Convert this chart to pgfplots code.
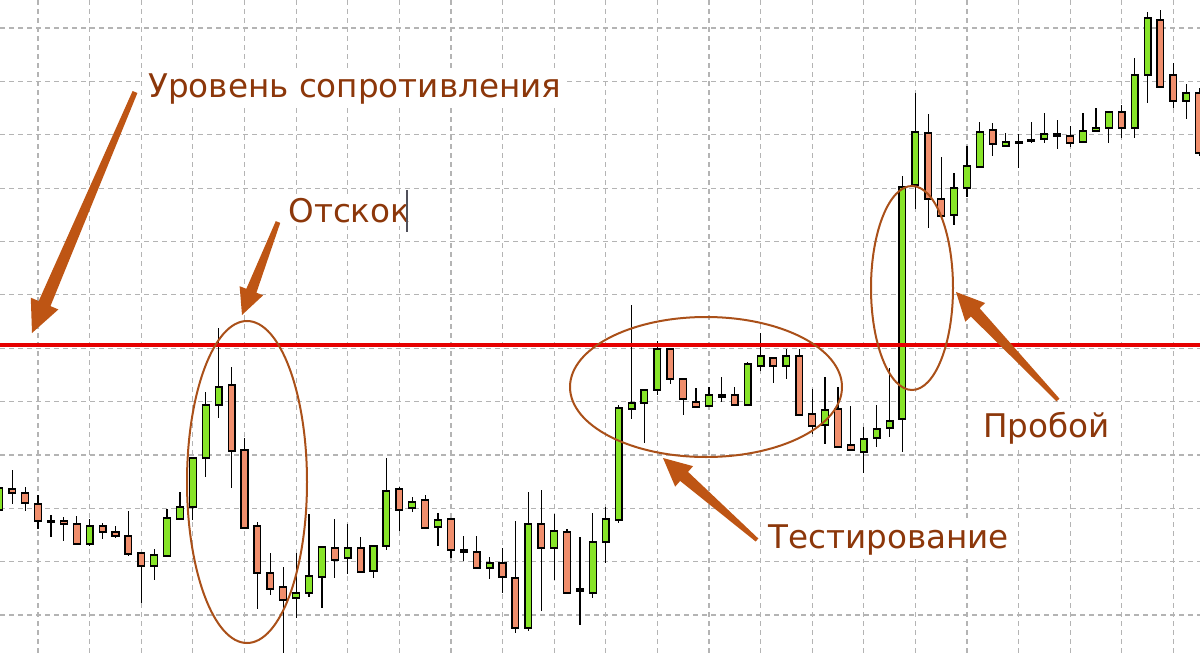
\documentclass[border=0pt]{standalone}
\usepackage{pgfplots}
\pgfplotsset{compat=1.18}
\usepackage{pgfplotstable}
\usepackage{fontspec}
\setmainfont{DejaVu Sans}
\usetikzlibrary{calc}

\definecolor{upcol}{RGB}{135,228,40}
\definecolor{downcol}{RGB}{240,142,108}
\definecolor{gridcol}{RGB}{180,180,180}
\definecolor{levelcol}{RGB}{230,0,0}
\definecolor{arrowcol}{RGB}{190,85,20}
\definecolor{textcol}{RGB}{140,55,10}
\definecolor{ellcol}{RGB}{170,80,25}
\definecolor{cursorcol}{RGB}{80,80,90}

% candles: index, open, high, low, close (screen scale, downward)
\pgfplotstableread{
k o h l c
0 510 485 513 488
1 489 470 504 493
2 493 487 511 503
3 504 495 529 521
4 521 515 537 522
5 521 517 541 524
6 524 516 544 544
7 544 519 546 526
8 526 523 539 532
9 532 526 538 536
10 536 511 556 554
11 553 553 603 566
12 566 549 580 555
13 556 509 556 518
14 519 492 520 507
15 507 458 520 458
16 458 392 477 405
17 405 328 418 387
18 385 367 488 451
19 450 438 528 528
20 526 522 609 573
21 573 553 595 589
22 587 567 653 600
23 598 553 618 593
24 593 514 597 576
25 577 547 608 547
26 548 519 578 560
27 558 524 574 548
28 548 537 572 572
29 571 546 578 546
30 546 458 550 491
31 489 487 531 510
32 508 497 512 502
33 500 495 529 528
34 527 513 546 520
35 519 519 558 550
36 550 536 561 552
37 552 536 568 568
38 568 557 579 563
39 563 548 593 577
40 578 521 633 628
41 628 492 631 524
42 524 490 611 548
43 548 514 580 531
44 532 529 593 593
45 589 537 625 591
46 593 513 598 542
47 542 507 563 519
48 520 405 523 408
49 409 305 419 403
50 403 390 443 390
51 390 341 395 349
52 349 349 384 379
53 379 379 415 399
54 402 388 408 407
55 406 387 406 395
56 395 377 402 397
57 395 387 406 405
58 405 362 405 364
59 366 333 371 356
60 358 358 383 366
61 366 349 379 356
62 356 349 416 415
63 414 389 434 426
64 425 377 444 410
65 409 387 447 447
66 445 406 450 450
67 452 427 473 439
68 438 405 447 429
69 428 368 437 421
70 419 176 452 187
71 185 93 209 132
72 133 114 228 199
73 199 157 216 216
74 215 173 225 188
75 188 146 197 166
76 167 122 168 132
77 130 123 156 144
78 146 133 146 142
79 142 134 168 143
80 140 122 143 141
81 139 113 143 134
82 134 120 149 136
83 136 126 147 143
84 142 113 143 131
85 131 108 131 128
86 128 112 143 112
87 112 105 138 128
88 128 58 138 75
89 75 12 103 18
90 20 10 87 87
91 75 63 108 101
92 101 84 119 93
93 93 88 156 153
}\candles

% tapered arrow: tail, tip, tail half width, neck half width, head half width, head length
\newcommand{\taperarrow}[6]{%
  \coordinate (T) at #1;
  \coordinate (H) at #2;
  \coordinate (B) at ($(H)!#6!(T)$);
  \fill[arrowcol] ($(T)!#3!90:(H)$) -- ($(B)!#4!90:(H)$) -- ($(B)!#5!90:(H)$)
    -- (H) -- ($(B)!#5!-90:(H)$) -- ($(B)!#4!-90:(H)$) -- ($(T)!#3!-90:(H)$) -- cycle;
}

\newfontfamily\annotfont{DejaVu Sans}

\begin{document}
\begin{tikzpicture}
\fill[white] (0,0) rectangle (600pt,327.5pt);
\begin{axis}[
  name=ax, at={(0,0)}, anchor=south west,
  scale only axis, width=600pt, height=327.5pt,
  xmin=0.047, xmax=93.07, ymin=0, ymax=655, y dir=reverse,
  axis line style={draw=none},
  xtick={3,7,...,91},
  ytick={28,81.4,134.7,188.1,241.4,294.8,348.2,401.5,454.9,508.2,561.6,615},
  xticklabels={}, yticklabels={}, major tick length=0pt,
  grid=major,
  grid style={gridcol, dash pattern=on 2.5pt off 2pt, line width=0.6pt},
  wick/.style={black, line width=0.6pt},
  body/.style={draw=black, line width=0.65pt},
]
\pgfplotstablegetrowsof{\candles}
\pgfmathtruncatemacro{\lastrow}{\pgfplotsretval-1}
\pgfplotsforeachungrouped \r in {0,...,\lastrow}{%
  \pgfplotstablegetelem{\r}{k}\of\candles \let\ck\pgfplotsretval
  \pgfplotstablegetelem{\r}{o}\of\candles \let\co\pgfplotsretval
  \pgfplotstablegetelem{\r}{h}\of\candles \let\ch\pgfplotsretval
  \pgfplotstablegetelem{\r}{l}\of\candles \let\cl\pgfplotsretval
  \pgfplotstablegetelem{\r}{c}\of\candles \let\cc\pgfplotsretval
  \pgfmathsetmacro{\xl}{\ck-0.26}%
  \pgfmathsetmacro{\xr}{\ck+0.26}%
  \ifdim\cc pt<\co pt \def\bodycol{upcol}\else\def\bodycol{downcol}\fi
  \edef\drawcandle{%
    \noexpand\addplot[wick] coordinates {(\ck,\ch) (\ck,\cl)};
    \noexpand\addplot[body, fill=\bodycol] coordinates {(\xl,\co) (\xr,\co) (\xr,\cc) (\xl,\cc)} -- cycle;
  }\drawcandle
}
% resistance level
\addplot[levelcol, line width=2.4pt] coordinates {(0,345) (94,345)};
\end{axis}

\begin{scope}[shift={(ax.north west)}, x=0.5pt, y=-0.5pt]
  % ellipses around the key zones
  \draw[ellcol, line width=1pt] (247,482) ellipse [x radius=60, y radius=161];
  \draw[ellcol, line width=1pt] (706,387) ellipse [x radius=136, y radius=70];
  \draw[ellcol, line width=1pt] (912,288) ellipse [x radius=41, y radius=102];
  % arrows
  \taperarrow{(135,92)}{(32,333)}{1.3pt}{3.2pt}{7.5pt}{16pt}
  \taperarrow{(278,222)}{(242,315)}{1.2pt}{2.7pt}{6.3pt}{13pt}
  \taperarrow{(757,540)}{(663,458)}{1pt}{3pt}{6.8pt}{14pt}
  \taperarrow{(1058,400)}{(956,292)}{1pt}{3pt}{6.8pt}{14pt}
  % labels
  \tikzset{lbl/.style={anchor=base west, fill=white, inner sep=2pt, text=textcol,
    font=\annotfont\fontsize{16.3pt}{20pt}\selectfont}}
  \node[lbl] at (144,97) {Уровень сопротивления};
  \node[lbl] at (284,222) {Отскок};
  \node[lbl] at (764,548) {Тестирование};
  \node[lbl] at (979,437) {Пробой};
  \draw[cursorcol, line width=0.7pt] (407,190) -- (407,232);
\end{scope}
\pgfresetboundingbox
\useasboundingbox (ax.south west) rectangle (ax.north east);
\end{tikzpicture}
\end{document}
